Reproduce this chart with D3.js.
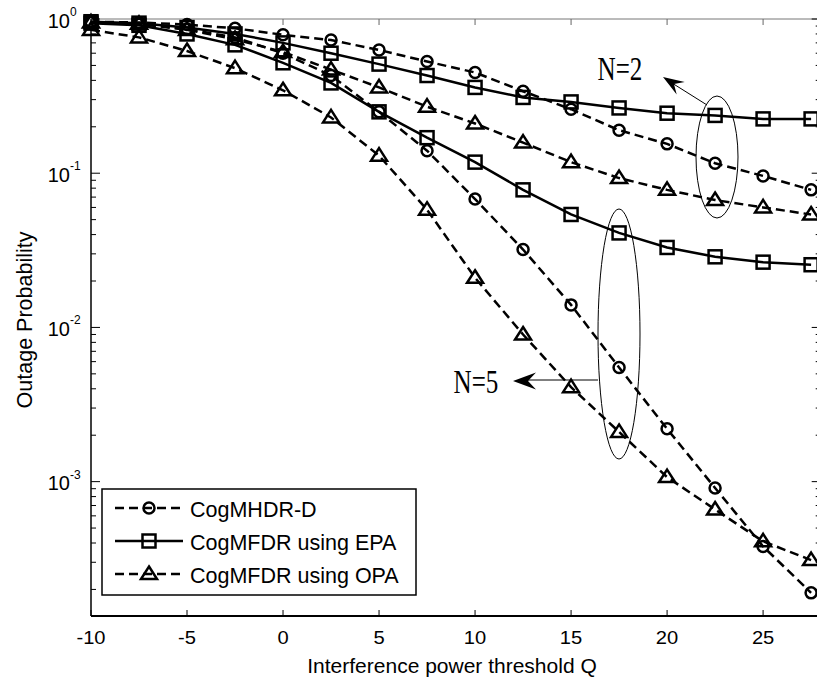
<!DOCTYPE html>
<html>
<head>
<meta charset="utf-8">
<script src="https://cdn.jsdelivr.net/npm/d3@7"></script>
<style>
    html, body { margin: 0; padding: 0; background: #fff; }
    svg { display: block; font-family: Arial, "Liberation Sans", sans-serif; }
</style>
</head>
<body>
<svg id="chart" width="817" height="681"></svg>
<script>
// interference power threshold Q (x axis)
var qValues = [-10, -7.5, -5, -2.5, 0, 2.5, 5, 7.5, 10, 12.5, 15, 17.5, 20, 22.5, 25, 27.5];

// N = 2
var mhdrN2 = [0.96, 0.95, 0.92, 0.87, 0.79, 0.73, 0.63, 0.53, 0.45, 0.34, 0.26, 0.19, 0.155, 0.116, 0.096, 0.078];
var epaN2 = [0.96, 0.94, 0.88, 0.80, 0.70, 0.60, 0.51, 0.43, 0.36, 0.31, 0.29, 0.265, 0.245, 0.237, 0.225, 0.225];
var opaN2 = [0.95, 0.93, 0.85, 0.74, 0.61, 0.47, 0.36, 0.27, 0.21, 0.158, 0.118, 0.093, 0.078, 0.067, 0.060, 0.054];

// N = 5
var mhdrN5 = [0.95, 0.93, 0.86, 0.76, 0.60, 0.43, 0.25, 0.14, 0.068, 0.032, 0.014, 0.0055, 0.0022, 0.00091, 0.00038, 0.00019];
var epaN5 = [0.94, 0.91, 0.80, 0.68, 0.52, 0.385, 0.25, 0.17, 0.118, 0.078, 0.054, 0.041, 0.033, 0.0287, 0.0265, 0.0255];
var opaN5 = [0.85, 0.76, 0.62, 0.48, 0.345, 0.23, 0.13, 0.058, 0.021, 0.009, 0.0041, 0.0021, 0.00107, 0.00066, 0.00041, 0.00031];

var xTicks = [-10, -5, 0, 5, 10, 15, 20, 25];
var yDecades = [0, -1, -2, -3];

var legendNames = ['CogMHDR-D', 'CogMFDR using EPA', 'CogMFDR using OPA'];

var series = [
    {name: legendNames[0], marker: 'circle', dashed: true, values: mhdrN2},
    {name: legendNames[1], marker: 'square', dashed: false, values: epaN2},
    {name: legendNames[2], marker: 'triangle', dashed: true, values: opaN2},
    {name: legendNames[0], marker: 'circle', dashed: true, values: mhdrN5},
    {name: legendNames[1], marker: 'square', dashed: false, values: epaN5},
    {name: legendNames[2], marker: 'triangle', dashed: true, values: opaN5}
];

var svg = d3.select('#chart');

var plot = {left: 91, right: 820.7, top: 19, bottom: 616};

var x = d3.scaleLinear().domain([-10, 28]).range([plot.left, plot.right]);
var y = d3.scaleLog().domain([1.345e-4, 1]).range([plot.bottom, plot.top]);

var DASH = '9,5';
var LW = 2.5;

/**
 * draws one marker centred on (cx, cy) into the group g
 */
function drawMarker(g, kind, cx, cy) {
    if (kind === 'circle') {
        g.append('circle')
            .attr('cx', cx).attr('cy', cy).attr('r', 5.5);
    } else if (kind === 'square') {
        g.append('rect')
            .attr('x', cx - 6.5).attr('y', cy - 6.5)
            .attr('width', 13).attr('height', 13);
    } else {
        g.append('path')
            .attr('d', 'M' + cx + ',' + (cy - 7.5) + 'L' + (cx + 8) + ',' + (cy + 5) + 'L' + (cx - 8) + ',' + (cy + 5) + 'Z');
    }
}

// ---- axes box and ticks (matlab style, ticks inward) ----
var axes = svg.append('g').attr('stroke', '#000').attr('fill', 'none');

axes.append('line')
    .attr('x1', plot.left).attr('x2', 817)
    .attr('y1', plot.top).attr('y2', plot.top)
    .attr('stroke', '#777').attr('stroke-width', 1);
axes.append('line')
    .attr('x1', plot.left).attr('x2', plot.right)
    .attr('y1', plot.bottom).attr('y2', plot.bottom)
    .attr('stroke-width', 1.8);
axes.append('line')
    .attr('x1', plot.left).attr('x2', plot.left)
    .attr('y1', plot.top).attr('y2', plot.bottom)
    .attr('stroke-width', 1.5);
axes.append('line')
    .attr('x1', plot.right).attr('x2', plot.right)
    .attr('y1', plot.top).attr('y2', plot.bottom)
    .attr('stroke-width', 1.5);

xTicks.forEach(function (t) {
    axes.append('line')
        .attr('x1', x(t)).attr('x2', x(t))
        .attr('y1', plot.bottom).attr('y2', plot.bottom - 6);
    axes.append('line')
        .attr('x1', x(t)).attr('x2', x(t))
        .attr('y1', plot.top).attr('y2', plot.top + 6)
        .attr('stroke', '#666');
});

// minor + major ticks on the log axis
var yMajor = yDecades.map(function (d) { return Math.pow(10, d); });
var yMinor = [];
[-4, -3, -2, -1].forEach(function (d) {
    for (var m = 2; m <= 9; ++m) {
        var v = m * Math.pow(10, d);
        if (v > y.domain()[0]) yMinor.push(v);
    }
});

yMajor.forEach(function (v) {
    axes.append('line')
        .attr('x1', plot.left).attr('x2', plot.left + 9)
        .attr('y1', y(v)).attr('y2', y(v));
    axes.append('line')
        .attr('x1', plot.right).attr('x2', plot.right - 9)
        .attr('y1', y(v)).attr('y2', y(v));
});
yMinor.forEach(function (v) {
    axes.append('line')
        .attr('x1', plot.left).attr('x2', plot.left + 5)
        .attr('y1', y(v)).attr('y2', y(v));
    axes.append('line')
        .attr('x1', plot.right).attr('x2', plot.right - 5)
        .attr('y1', y(v)).attr('y2', y(v));
});

// tick labels
svg.append('g')
    .selectAll('text')
    .data(xTicks)
    .enter()
    .append('text')
    .attr('transform', function (d) { return 'translate(' + x(d) + ',644) scale(1.12,1)'; })
    .attr('text-anchor', 'middle')
    .style('font-size', '18px')
    .text(function (d) { return d; });

svg.append('g')
    .selectAll('text')
    .data(yDecades)
    .enter()
    .append('text')
    .attr('x', 70)
    .attr('y', function (d) { return y(Math.pow(10, d)) + 8.5; })
    .attr('text-anchor', 'end')
    .style('font-size', '20px')
    .text('10');

svg.append('g')
    .selectAll('text')
    .data(yDecades)
    .enter()
    .append('text')
    .attr('x', 70)
    .attr('y', function (d) { return y(Math.pow(10, d)) - 3; })
    .style('font-size', '12px')
    .text(function (d) { return d === 0 ? '0' : '' + d; });

// axis titles
svg.append('text')
    .attr('x', 452)
    .attr('y', 673)
    .attr('text-anchor', 'middle')
    .style('font-size', '21px')
    .text('Interference power threshold Q');

svg.append('text')
    .attr('transform', 'translate(32,320) rotate(-90)')
    .attr('text-anchor', 'middle')
    .style('font-size', '21.5px')
    .text('Outage Probability');

// ---- data ----
var line = d3.line()
    .x(function (d) { return x(d.q); })
    .y(function (d) { return y(d.p); });

series.forEach(function (s) {
    var pts = qValues.map(function (q, i) { return {q: q, p: s.values[i]}; });

    svg.append('path')
        .datum(pts)
        .attr('d', line)
        .attr('fill', 'none')
        .attr('stroke', '#000')
        .attr('stroke-width', LW)
        .attr('stroke-dasharray', s.dashed ? DASH : null);

    var mg = svg.append('g')
        .attr('fill', 'none')
        .attr('stroke', '#000')
        .attr('stroke-width', LW);
    pts.forEach(function (d) {
        drawMarker(mg, s.marker, x(d.q), y(d.p));
    });
});

// ---- annotations ----
/**
 * matlab-like filled arrow head, tip at (tx, ty) pointing along angle
 */
function arrowHead(tx, ty, angle, len, half, notch) {
    var c = Math.cos(angle), s = Math.sin(angle);
    var bx = tx - c * len, by = ty - s * len;
    var nx = tx - c * notch, ny = ty - s * notch;
    return 'M' + tx + ',' + ty +
        'L' + (bx - s * half) + ',' + (by + c * half) +
        'L' + nx + ',' + ny +
        'L' + (bx + s * half) + ',' + (by - c * half) + 'Z';
}

/**
 * condensed serif label like the matlab text annotation
 */
function noteText(g, cx, baseline, str) {
    g.append('text')
        .attr('transform', 'translate(' + cx + ',' + baseline + ') scale(0.76,1)')
        .attr('text-anchor', 'middle')
        .style('font-family', '"Liberation Serif", "Times New Roman", serif')
        .style('font-size', '33px')
        .text(str);
}

var notes = svg.append('g');

notes.append('ellipse')
    .attr('cx', 717).attr('cy', 157)
    .attr('rx', 21).attr('ry', 61)
    .attr('fill', 'none').attr('stroke', '#000').attr('stroke-width', 1);
notes.append('line')
    .attr('x1', 707).attr('y1', 105)
    .attr('x2', 672).attr('y2', 83)
    .attr('stroke', '#000').attr('stroke-width', 1);
notes.append('path')
    .attr('d', arrowHead(663, 77, Math.atan2(77 - 105, 663 - 707), 21, 7.5, 13))
    .attr('fill', '#000');
noteText(notes, 620, 80, 'N=2');

notes.append('ellipse')
    .attr('cx', 619).attr('cy', 334)
    .attr('rx', 21).attr('ry', 125)
    .attr('fill', 'none').attr('stroke', '#000').attr('stroke-width', 1);
notes.append('line')
    .attr('x1', 598).attr('y1', 380)
    .attr('x2', 525).attr('y2', 380)
    .attr('stroke', '#000').attr('stroke-width', 1);
notes.append('path')
    .attr('d', arrowHead(513, 381, Math.PI, 23, 8.5, 15))
    .attr('fill', '#000');
noteText(notes, 476, 393, 'N=5');

// ---- legend ----
var legend = svg.append('g');
legend.append('rect')
    .attr('x', 102).attr('y', 489)
    .attr('width', 314).attr('height', 106)
    .attr('fill', '#fff').attr('stroke', '#000').attr('stroke-width', 1.5);

var legendRows = series.slice(0, 3);
legendRows.forEach(function (s, i) {
    var ly = 508 + i * 33;
    legend.append('line')
        .attr('x1', 115).attr('x2', 183)
        .attr('y1', ly).attr('y2', ly)
        .attr('stroke', '#000').attr('stroke-width', LW)
        .attr('stroke-dasharray', s.dashed ? DASH : null);
    var mg = legend.append('g')
        .attr('fill', 'none').attr('stroke', '#000').attr('stroke-width', LW);
    drawMarker(mg, s.marker, 149, ly);
    legend.append('text')
        .attr('x', 190).attr('y', ly + 9)
        .style('font-size', '21.5px')
        .text(s.name);
});
</script>
</body>
</html>
